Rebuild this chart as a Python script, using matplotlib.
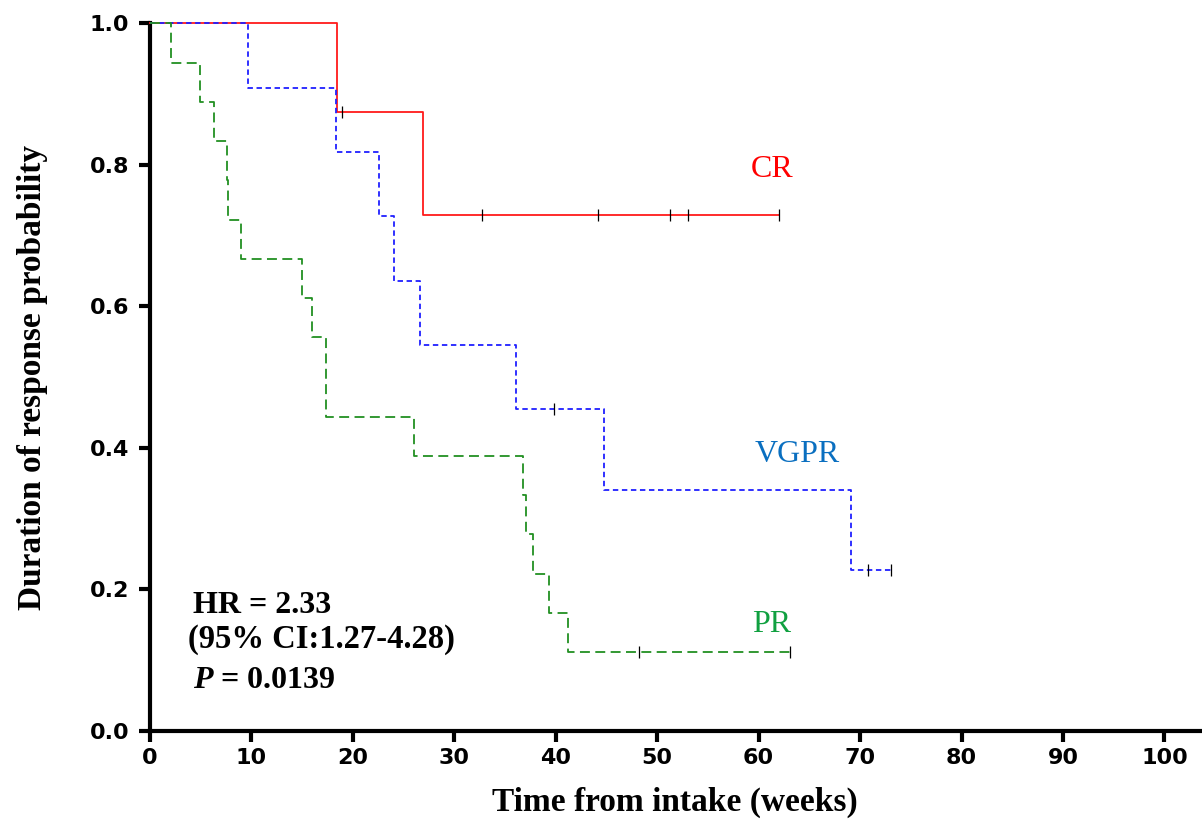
import numpy as np
import matplotlib
matplotlib.use("Agg")
import matplotlib.pyplot as plt

plt.rcParams['mathtext.fontset'] = 'custom'
plt.rcParams['mathtext.bfit'] = 'Liberation Serif:italic:bold'
plt.rcParams['mathtext.it'] = 'Liberation Serif:italic:bold'

# step curves (time in weeks, survival after the step)
cr_t = [0, 18.4, 26.9, 62.0]
cr_s = [1.0, 0.875, 0.729, 0.729]
cr_cens = [18.9, 32.7, 44.2, 51.3, 53.0, 62.0]

vgpr_t = [0, 9.7, 18.3, 22.6, 24.1, 26.6, 36.1, 44.8, 69.1, 73.0]
vgpr_s = [1.0, 0.909, 0.818, 0.727, 0.636, 0.545, 0.455, 0.341, 0.227, 0.227]
vgpr_cens = [39.8, 70.8, 73.0]

pr_t = [0, 2.1, 4.9, 6.3, 7.6, 7.7, 9.0, 15.0, 16.0, 17.3, 26.0, 36.8, 37.1, 37.8, 39.3, 41.2, 63.1]
pr_s = [1.0, 0.944, 0.889, 0.833, 0.778, 0.722, 0.667, 0.611, 0.556, 0.444, 0.389,
        0.333, 0.278, 0.222, 0.167, 0.111, 0.111]
pr_cens = [48.2, 63.1]

x_ticks = list(range(0, 101, 10))
y_ticks = [0.0, 0.2, 0.4, 0.6, 0.8, 1.0]

fig = plt.figure(figsize=(12.02, 8.26), dpi=100)
ax = fig.add_axes([0.1248, 0.115, 0.8735, 0.857])

def km(t, s, cens, color, ls):
    ax.step(t, s, where='post', color=color, lw=1.3, linestyle=ls, clip_on=False, zorder=3)
    idx = np.searchsorted(t, cens, side='right') - 1
    ax.plot(cens, np.array(s)[idx], linestyle='none', marker='|', color='black',
            markersize=8, markeredgewidth=0.9, clip_on=False, zorder=4)

km(cr_t, cr_s, cr_cens, '#ff1a1a', '-')
km(vgpr_t, vgpr_s, vgpr_cens, '#2020ff', (0, (3, 2)))
km(pr_t, pr_s, pr_cens, '#229022', (0, (5.5, 3)))

serif = 'Liberation Serif'
ax.text(61.3, 0.793, 'CR', color='#ff0000', fontsize=23, family=serif, ha='center', va='center')
ax.text(63.8, 0.39, 'VGPR', color='#0a6fc0', fontsize=23, family=serif, ha='center', va='center')
ax.text(61.3, 0.15, 'PR', color='#10a040', fontsize=23, family=serif, ha='center', va='center')

ax.text(4.2, 0.178, 'HR = 2.33', fontsize=23, family=serif, fontweight='bold', va='center')
ax.text(3.7, 0.129, '(95% CI:1.27-4.28)', fontsize=23.5, family=serif, fontweight='bold', va='center')
ax.text(4.2, 0.072, r'$\mathit{P}$ = 0.0139', fontsize=23, family=serif, fontweight='bold', va='center')

ax.set_xlim(0, 103.5)
ax.set_ylim(0, 1.0)
ax.set_xticks(x_ticks)
ax.set_yticks(y_ticks)
ax.set_yticklabels(['%.1f' % v for v in y_ticks])

for side in ['top', 'right']:
    ax.spines[side].set_visible(False)
for side in ['left', 'bottom']:
    ax.spines[side].set_linewidth(3)
ax.tick_params(width=3, length=8, labelsize=16)
ax.tick_params(axis='x', pad=4)
ax.tick_params(axis='y', pad=7)
for lab in ax.get_xticklabels() + ax.get_yticklabels():
    lab.set_family('DejaVu Sans')
    lab.set_fontweight('bold')

ax.set_xlabel('Time from intake (weeks)', fontsize=24, family=serif, fontweight='bold', labelpad=14)
ax.set_ylabel('Duration of response probability', fontsize=24, family=serif, fontweight='bold', labelpad=30)

fig.savefig('out.png', dpi=100)
